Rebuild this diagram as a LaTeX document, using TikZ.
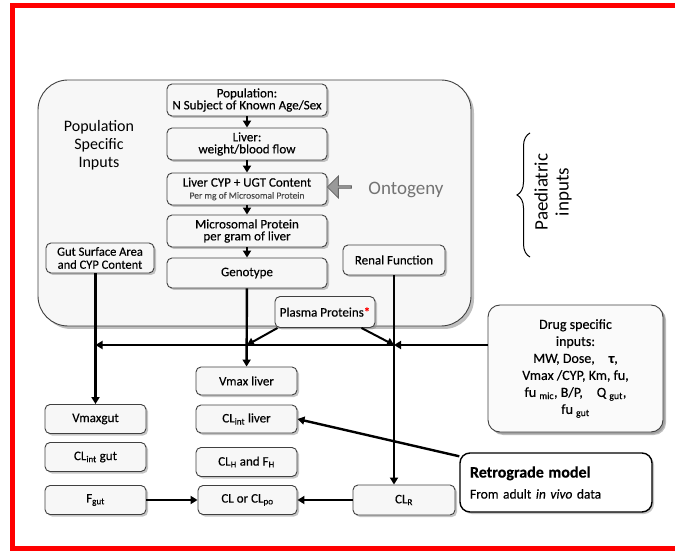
\documentclass[tikz,border=0pt]{standalone}
\usepackage{fontspec}
\setmainfont{Carlito}
\newfontfamily\semib[FakeBold=0.35]{Carlito}
\usetikzlibrary{arrows.meta,shapes.arrows,shadows,decorations.pathreplacing}

\tikzset{
  boxshadow/.style={drop shadow={shadow xshift=2pt,shadow yshift=-2pt,fill=black!45}},
  box/.style={draw=black!75,line width=0.9pt,rounded corners=5pt,fill=black!3,
    align=center,inner sep=1pt,font=\semib\fontsize{13}{12}\selectfont,boxshadow},
  topbox/.style={box,minimum width=160pt,minimum height=32pt},
  lowbox/.style={box,minimum width=101pt,minimum height=29pt},
  arr/.style={draw,-{Triangle[length=7pt,width=8pt]},line width=2.4pt},
}

\begin{document}
\begin{tikzpicture}[x=1pt,y=-1pt]
  \useasboundingbox (0,0) rectangle (675,553);

  % red frame
  \draw[red,line width=4.5pt] (680,5.5) -- (12.5,5.5) -- (12.5,548.5) -- (680,548.5);

  % population specific inputs
  \node[draw=black!75,line width=0.9pt,fill=black!3,rounded corners=30pt,
    minimum width=433pt,minimum height=246pt,
    drop shadow={shadow xshift=3pt,shadow yshift=-3pt,fill=black!50}] (popin) at (254.5,203) {};
  \node[font=\fontsize{16}{18}\selectfont,align=center] (poptxt) at (99,145) {Population\\Specific\\Inputs};

  \begin{scope}[every node/.style={topbox}]
    \node (pop)   at (247,100) {Population:\\N Subject of Known Age/Sex};
    \node (liver) at (247,144) {Liver:\\weight/blood flow};
    \node (cyp)   at (247,189) {Liver CYP + UGT Content\\{\fontsize{9.5}{10}\selectfont\color{black!70}Per mg of Microsomal Protein}};
    \node (micro) at (247,231) {Microsomal Protein\\per gram of liver};
    \node[minimum height=30pt] (geno) at (247,273) {Genotype};
  \end{scope}

  \begin{scope}[every node/.style={box}]
    \node[minimum width=108pt,minimum height=30pt,font=\semib\fontsize{12.5}{13}\selectfont] (gut) at (100,258) {Gut Surface Area\\and CYP Content};
    \node[minimum width=102pt,minimum height=30pt] (renal) at (394,260) {Renal Function};
    \node[minimum width=100pt,minimum height=31pt] (plasma) at (325,312) {Plasma Proteins\textcolor{red}{*}};
  \end{scope}

  % ontogeny
  \node[single arrow,shape border rotate=180,draw=black!60,fill=black!40,line width=0.8pt,
    minimum width=22pt,minimum height=24pt,single arrow head extend=3pt,inner sep=0pt] (ontoarrow) at (340,187) {};
  \node[font=\fontsize{19}{20}\selectfont,text=black!55] (ontotxt) at (406,190) {Ontogeny};

  % paediatric inputs
  \draw[decorate,decoration={brace,amplitude=13pt},line width=1pt] (530,257) -- (530,133);
  \node[rotate=90,align=center,font=\fontsize{19}{21}\selectfont] (paed) at (553,192) {Paediatric\\inputs};

  % drug specific inputs
  \node[box,rounded corners=12pt,minimum width=175pt,minimum height=127pt,fill=black!2,
    font=\semib\fontsize{14}{17}\selectfont,
    drop shadow={shadow xshift=3pt,shadow yshift=-3pt,fill=black!50}] (drug) at (575.5,368.5)
    {Drug specific\\inputs:\\MW, Dose,\quad {\bfseries τ},\\Vmax /CYP, Km, fu,\\fu \textsubscript{mic}, B/P,\quad Q \textsubscript{gut},\\fu \textsubscript{gut}};

  \begin{scope}[every node/.style={lowbox}]
    \node (vmaxgut)  at (95.5,419) {Vmaxgut};
    \node (clintgut) at (95.5,457) {CL\textsubscript{int} gut};
    \node (fgut)     at (95.5,500) {F\textsubscript{gut}};
    \node[minimum height=28pt] (vmaxliv)  at (246.5,381) {Vmax liver};
    \node[minimum height=28pt] (clintliv) at (246.5,419) {CL\textsubscript{int} liver};
    \node (clh)      at (246.5,462) {CL\textsubscript{H} and F\textsubscript{H}};
    \node[minimum width=99pt] (clpo) at (247.5,500) {CL or CL\textsubscript{po}};
    \node[minimum width=102pt,minimum height=30pt] (clr) at (404,500) {CL\textsubscript{R}};
  \end{scope}

  % retrograde model
  \node[box,line width=1.4pt,rounded corners=10pt,fill=white,draw=black,
    minimum width=192pt,minimum height=59pt,text width=172pt,align=left,
    inner xsep=10pt,font=\semib\fontsize{13.5}{21}\selectfont] (retro) at (556,482.5)
    {{\fontsize{16}{16}\selectfont\bfseries Retrograde model}\\From adult \textit{in vivo} data};

  % junctions
  \coordinate (jg) at (vmaxgut.north |- 0,345);
  \coordinate (jl) at (geno.south |- 0,345);
  \coordinate (jr) at (renal.south |- 0,345);

  \begin{scope}[every edge/.style={arr}]
    \path (pop)   edge (liver);
    \path (liver) edge (cyp);
    \path (cyp)   edge (micro);
    \path (micro) edge (geno);
    \path (gut.south -| vmaxgut.north) edge (vmaxgut.north);
    \path (geno)  edge (vmaxliv);
    \path (renal.south) edge (renal.south |- clr.north);
    \path (drug.west |- jr) edge (jr);
    \path (jr)    edge (jg);
    \path ([xshift=3pt]plasma.south west) edge[line width=2pt] (jl);
    \path ([xshift=-14pt]plasma.south east) edge[line width=2pt] (jr);
    \path ([yshift=-4pt]retro.north west) edge (clintliv.east);
    \path (fgut)  edge (clpo);
    \path (clr)   edge (clpo);
  \end{scope}

\end{tikzpicture}
\end{document}
